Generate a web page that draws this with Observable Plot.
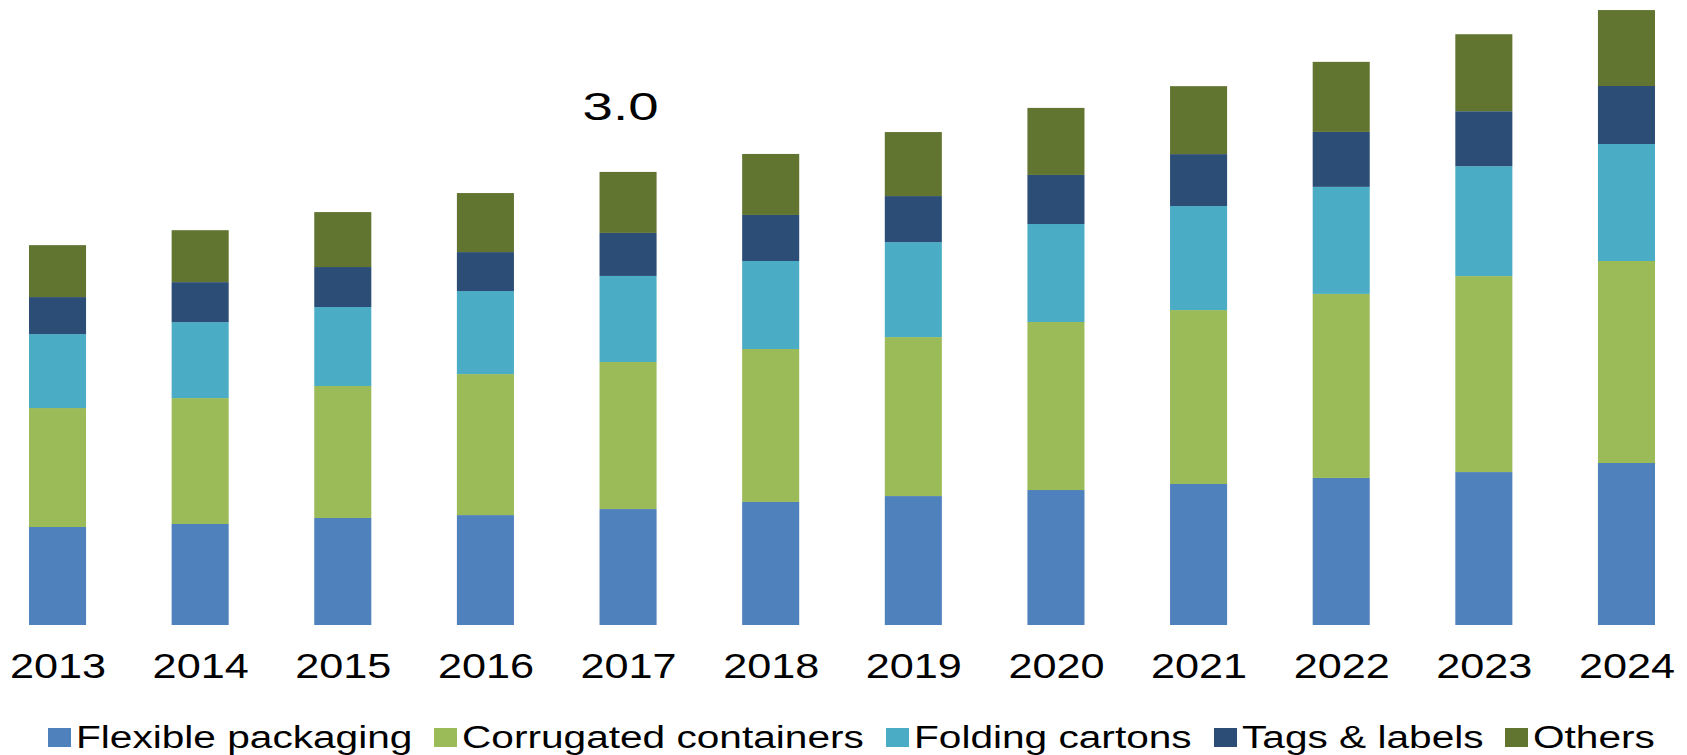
<!DOCTYPE html>
<html>
<head>
<meta charset="utf-8">
<script src="https://cdn.jsdelivr.net/npm/d3@7"></script>
<script src="https://cdn.jsdelivr.net/npm/@observablehq/plot@0.6"></script>
<style>
  html, body { margin: 0; padding: 0; background: #fff; }
  body { font-family: "Liberation Sans", Arial, sans-serif; }
  #chart { position: relative; width: 1687px; height: 755px; overflow: hidden; background: #fff; }
  #legend { position: absolute; left: 48px; top: 700px; height: 75px; display: flex; align-items: center; }
  .item { display: flex; align-items: center; margin-right: 22px; }
  .sw { width: 23px; height: 19px; margin-right: 5px; flex: none; }
  .lb { display: inline-block; font-size: 31px; line-height: 1; color: #000; white-space: nowrap; transform-origin: 0 50%; }
</style>
</head>
<body>
<div id="chart"></div>
<script>
// ---- data (USD billion) ----
const years = ["2013","2014","2015","2016","2017","2018","2019","2020","2021","2022","2023","2024"];
const series = ["Flexible packaging","Corrugated containers","Folding cartons","Tags & labels","Others"];
const colors = ["#4F81BD","#9BBB59","#4BACC6","#2C4D76","#617430"];
const flexible   = [0.649,0.669,0.709,0.728,0.768,0.815,0.854,0.894,0.934,0.974,1.013,1.073];
const corrugated = [0.788,0.834,0.874,0.934,0.974,1.013,1.053,1.113,1.152,1.219,1.298,1.338];
const folding    = [0.490,0.503,0.523,0.550,0.570,0.583,0.629,0.649,0.689,0.709,0.728,0.775];
const tags       = [0.245,0.265,0.265,0.258,0.285,0.305,0.305,0.325,0.344,0.364,0.364,0.384];
const others     = [0.344,0.344,0.364,0.391,0.404,0.404,0.424,0.444,0.450,0.464,0.510,0.503];
const labelYear = "2017";
const labelText = "3.0";

const seriesValues = [flexible, corrugated, folding, tags, others];
const rows = years.flatMap((yr, i) => seriesValues.map((arr, j) => ({year: yr, series: series[j], value: arr[i]})));
const totals = years.map((yr, i) => ({year: yr, total: seriesValues.reduce((s, arr) => s + arr[i], 0)}));

const plot = Plot.plot({
  width: 1687,
  height: 700,
  marginLeft: 29,
  marginRight: 32,
  marginTop: 6,
  marginBottom: 75,
  style: {fontFamily: '"Liberation Sans", Arial, sans-serif', background: "#fff", color: "#000", overflow: "visible"},
  x: {domain: years, paddingInner: 0.6, paddingOuter: 0, round: false, label: null},
  y: {domain: [0, 4.1], axis: null},
  color: {domain: series, range: colors},
  marks: [
    Plot.barY(rows, Plot.stackY({x: "year", y: "value", fill: "series"})),
    Plot.axisX({tickSize: 0, tickPadding: 27, fontSize: 36, fill: "#000", label: null}),
    Plot.text(totals.filter(d => d.year === labelYear), {
      x: "year", y: "total", text: () => labelText,
      fontSize: 39, fill: "#000", lineAnchor: "bottom", dy: -52, dx: -8
    })
  ]
});

const chart = document.getElementById("chart");
chart.appendChild(plot);

// horizontal stretch of the text, as in the reference
function stretch(sel, sx) {
  plot.querySelectorAll(sel).forEach(el => {
    const t = el.getAttribute("transform") || "";
    if (el.hasAttribute("x") && !t) {
      const x = +el.getAttribute("x");
      el.setAttribute("x", x / sx);
    }
    el.setAttribute("transform", (t + ` scale(${sx},1)`).trim());
  });
}
stretch('g[aria-label="x-axis tick label"] text', 1.2);
stretch('g[aria-label="text"] text', 1.4);

// legend
const legend = document.createElement("div");
legend.id = "legend";
series.forEach((s, i) => {
  const item = document.createElement("div");
  item.className = "item";
  const sw = document.createElement("span");
  sw.className = "sw";
  sw.style.background = colors[i];
  const lb = document.createElement("span");
  lb.className = "lb";
  lb.textContent = s;
  item.appendChild(sw);
  item.appendChild(lb);
  legend.appendChild(item);
});
chart.appendChild(legend);
const SX = 1.31;
legend.querySelectorAll(".lb").forEach(lb => {
  const w = lb.getBoundingClientRect().width;
  lb.style.width = (w * SX) + "px";
  lb.style.transform = `scaleX(${SX})`;
});
</script>
</body>
</html>
